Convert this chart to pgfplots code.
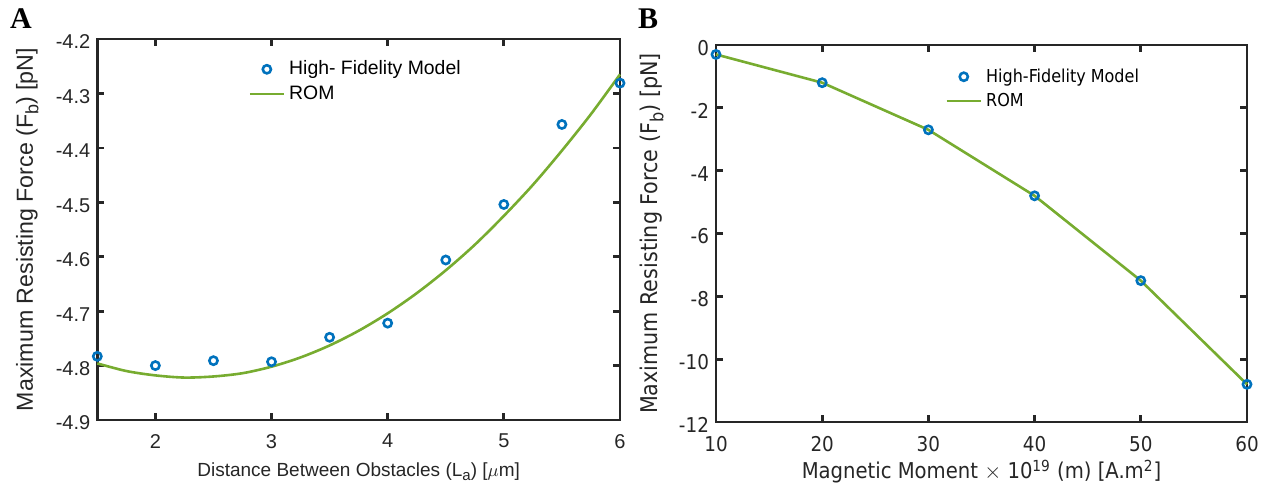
\documentclass[border=0pt]{standalone}
\usepackage{pgfplots}
\pgfplotsset{compat=1.18}
\usepackage{fontspec}
\setmainfont{Liberation Sans}
\newfontfamily\tahoma{DejaVu Sans Condensed}
\newfontfamily\timesf{Liberation Serif}
\definecolor{mblue}{RGB}{0,114,189}
\definecolor{mgreen}{RGB}{119,172,48}
\definecolor{axc}{RGB}{38,38,38}
\pgfplotsset{mystyle/.style={
  scale only axis, clip=false,
  axis line style={axc, line width=1.35pt},
  tick style={axc, line width=1.35pt},
  major tick length=3.5pt, tick align=inside,
  /pgf/number format/assume math mode=true,
  tick label style={text=axc},
  xticklabel style={yshift=-3.5pt},
  yticklabel style={yshift=-1.5pt},
  legend style={draw=none, fill=none, anchor=north west, legend cell align=left, row sep=0pt, text=black},
}}
\pgfplotstableread{
x y
1.5 -4.783
2 -4.800
2.5 -4.791
3 -4.793
3.5 -4.748
4 -4.722
4.5 -4.606
5 -4.504
5.5 -4.357
6 -4.281
}\hfA
\pgfplotstableread{
x y
1.5 -4.796
1.75 -4.810
2.0 -4.818
2.25 -4.822
2.5 -4.820
2.75 -4.814
3.0 -4.802
3.25 -4.785
3.5 -4.763
3.75 -4.736
4.0 -4.704
4.25 -4.667
4.5 -4.625
4.75 -4.578
5.0 -4.525
5.25 -4.468
5.5 -4.405
5.75 -4.338
6.0 -4.265
}\romA
\pgfplotstableread{
x y
10 -0.30
20 -1.20
30 -2.70
40 -4.80
50 -7.50
60 -10.80
}\hfB
\begin{document}
\begin{tikzpicture}
\useasboundingbox (0,0) rectangle (636pt,-247.5pt);
\node[font=\timesf\bfseries\fontsize{15}{17}\selectfont, inner sep=0pt] at (10.5pt,-9.5pt) {A};
\node[font=\timesf\bfseries\fontsize{15}{17}\selectfont, inner sep=0pt] at (324pt,-9.5pt) {B};
\begin{axis}[mystyle,
  at={(48.65pt,-210pt)}, anchor=south west,
  width=261.35pt, height=190.5pt,
  xmin=1.5, xmax=6, ymin=-4.9, ymax=-4.2,
  xtick={2,3,4,5,6},
  ytick={-4.9,-4.8,-4.7,-4.6,-4.5,-4.4,-4.3,-4.2},
  yticklabel style={/pgf/number format/.cd, fixed, fixed zerofill, precision=1},
  tick label style={font=\fontsize{10}{11}\selectfont},
  xlabel={Distance Between Obstacles (L\raisebox{-0.45ex}{\fontsize{7.5}{8}\selectfont a}) [$\mu$m]},
  ylabel={Maximum Resisting Force (F\raisebox{-0.45ex}{\fontsize{9}{10}\selectfont b}) [pN]},
  xlabel style={at={(axis description cs:0.5,-0.148)}, anchor=base, font=\fontsize{9.5}{10}\selectfont, text=axc},
  ylabel style={at={(axis description cs:-0.134,0.5)}, anchor=center, font=\fontsize{11.6}{13}\selectfont, text=axc},
  legend style={at={(axis description cs:0.277,0.965)}, font=\fontsize{9.7}{11}\selectfont},
]
\addplot[only marks, mark=o, mark size=2.05pt, mblue, line width=1.3pt] table {\hfA};
\addlegendentry{High- Fidelity Model}
\addplot[mgreen, line width=1.3pt, smooth] table {\romA};
\addlegendentry{ROM}
\end{axis}
\begin{axis}[mystyle,
  at={(358pt,-211pt)}, anchor=south west,
  width=265.5pt, height=188.5pt,
  xmin=10, xmax=60, ymin=-12, ymax=0,
  xtick={10,20,30,40,50,60},
  ytick={-12,-10,-8,-6,-4,-2,0},
  tick label style={font=\tahoma\fontsize{10.2}{11}\selectfont},
  xlabel={Magnetic Moment $\times$ 10\textsuperscript{19} (m) [A.m\textsuperscript{2}]},
  ylabel={Maximum Resisting Force (F\raisebox{-0.45ex}{\fontsize{9}{10}\selectfont b}) [pN]},
  xlabel style={at={(axis description cs:0.5,-0.151)}, anchor=base, font=\tahoma\fontsize{10.9}{12}\selectfont, text=axc},
  ylabel style={at={(axis description cs:-0.1205,0.5)}, anchor=center, font=\tahoma\fontsize{11.5}{13}\selectfont, text=axc},
  legend style={at={(axis description cs:0.42,0.96)}, font=\tahoma\fontsize{8.9}{10}\selectfont},
]
\addplot[only marks, mark=o, mark size=2.05pt, mblue, line width=1.3pt] table {\hfB};
\addlegendentry{High-Fidelity Model}
\addplot[mgreen, line width=1.3pt] table {\hfB};
\addlegendentry{ROM}
\end{axis}
\end{tikzpicture}
\end{document}
